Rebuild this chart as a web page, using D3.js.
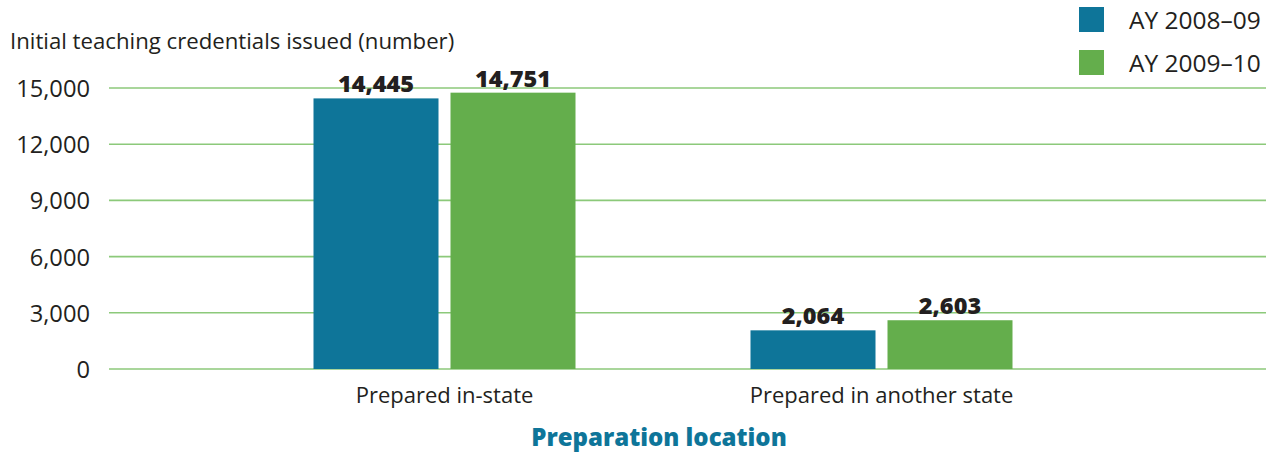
<!DOCTYPE html>
<html><head><meta charset="utf-8">
<script src="https://cdn.jsdelivr.net/npm/d3@7"></script>
<style>body{margin:0;background:#fff}svg{display:block}text{font-family:"Open Sans","Noto Sans",sans-serif;fill:#231f20}</style>
</head><body><svg id="c" width="1278" height="454"></svg>
<script>
const categories = ["Prepared in-state", "Prepared in another state"];
const seriesNames = ["AY 2008\u201309", "AY 2009\u201310"];
const values2008 = [14445, 2064];
const values2009 = [14751, 2603];
const yTicks = [0, 3000, 6000, 9000, 12000, 15000];
const colors = ["#0e7599", "#64ae4c"];

const svg = d3.select("#c");
const y = d3.scaleLinear().domain([0, 15000]).range([369, 88]);
const x = d3.scaleBand().domain(categories).range([226, 1100]).paddingInner(0).paddingOuter(0);
const xs = d3.scaleBand().domain(seriesNames).range([0, 262]).paddingInner(0.0876);
const fmt = d3.format(",");

svg.append("g").selectAll("line").data(yTicks).join("line")
  .attr("x1", 109).attr("x2", 1266)
  .attr("y1", d => y(d)).attr("y2", d => y(d))
  .attr("stroke", "#8cc97a").attr("stroke-width", 1.6);

svg.append("g").selectAll("text").data(yTicks).join("text")
  .attr("x", 90).attr("y", d => y(d) + 9).attr("text-anchor", "end")
  .attr("font-size", 23.7).text(d => fmt(d));

svg.append("text").attr("x", 10).attr("y", 49).attr("font-size", 22.2)
  .text("Initial teaching credentials issued (number)");

const series = [values2008, values2009];
series.forEach((vals, si) => {
  const g = svg.append("g");
  g.selectAll("rect").data(categories).join("rect")
    .attr("x", (c) => x(c) + x.bandwidth()/2 - 131 + xs(seriesNames[si]))
    .attr("width", xs.bandwidth())
    .attr("y", (c, i) => y(vals[i]))
    .attr("height", (c, i) => y(0) - y(vals[i]))
    .attr("fill", colors[si]);
  g.selectAll("text").data(categories).join("text")
    .attr("x", (c) => x(c) + x.bandwidth()/2 - 131 + xs(seriesNames[si]) + xs.bandwidth()/2)
    .attr("y", (c, i) => y(vals[i]) - 6)
    .attr("text-anchor", "middle").attr("font-size", 23.5).attr("font-weight", 800)
    .text((c, i) => fmt(vals[i]));
});

svg.append("g").selectAll("text").data(categories).join("text")
  .attr("x", c => x(c) + x.bandwidth()/2).attr("y", 403)
  .attr("text-anchor", "middle").attr("font-size", 22).text(c => c);

svg.append("text").attr("x", 659).attr("y", 446).attr("text-anchor", "middle")
  .attr("font-size", 24).attr("font-weight", 800).style("fill", "#0e7599")
  .text("Preparation location");

const lg = svg.append("g");
seriesNames.forEach((s, i) => {
  lg.append("rect").attr("x", 1079).attr("y", 7 + i*43).attr("width", 25).attr("height", 25).attr("fill", colors[i]);
  lg.append("text").attr("x", 1129).attr("y", 29 + i*43).attr("font-size", 24.5).text(s);
});
</script></body></html>
